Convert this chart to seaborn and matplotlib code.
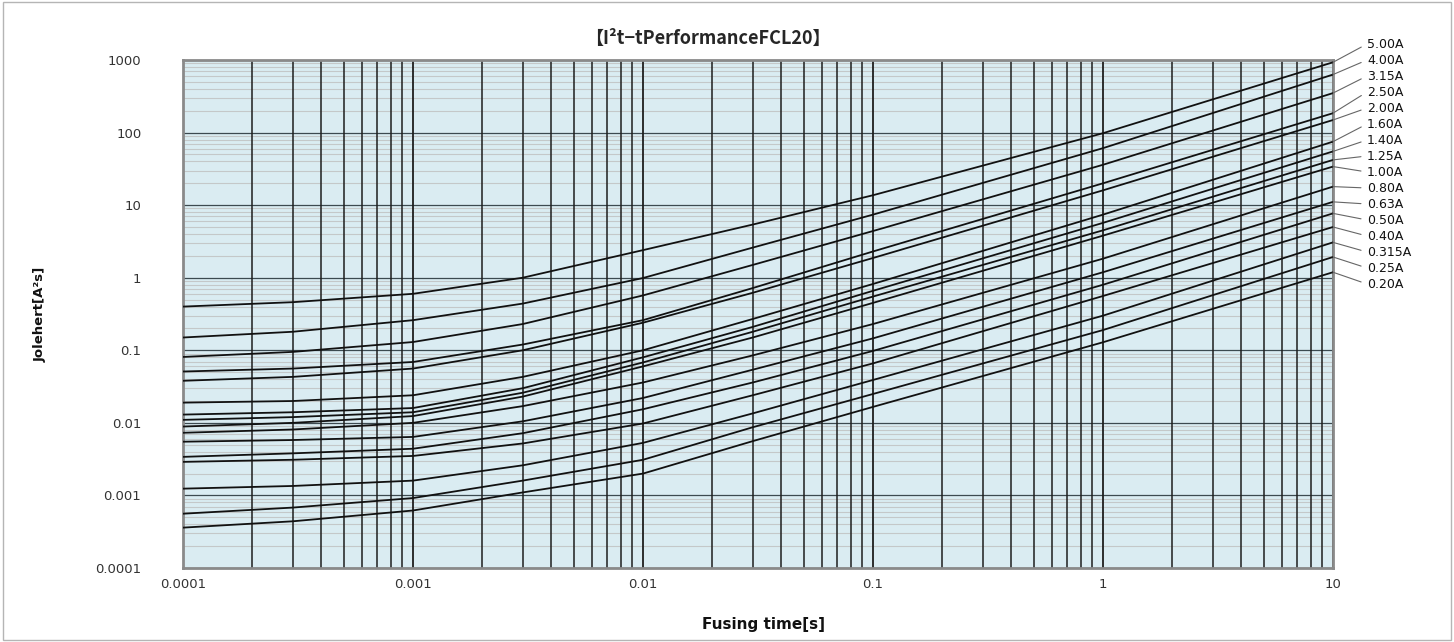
import numpy as np
import pandas as pd
import matplotlib
matplotlib.use("Agg")
import matplotlib.pyplot as plt
from matplotlib.patches import Rectangle
from matplotlib.ticker import LogLocator, FuncFormatter, NullFormatter
import seaborn as sns

# Fusing time [s]
times = [0.0001, 0.0003, 0.001, 0.003, 0.01, 0.03, 0.1, 1, 10]

# Rated current of each curve (top to bottom)
ratings = ["5.00A", "4.00A", "3.15A", "2.50A", "2.00A", "1.60A", "1.40A", "1.25A",
           "1.00A", "0.80A", "0.63A", "0.50A", "0.40A", "0.315A", "0.25A", "0.20A"]

# I2t values [A2s] read at each time above
i2t_500 = [0.40, 0.46, 0.60, 1.0, 2.4, 5.4, 13.7, 98, 930]
i2t_400 = [0.15, 0.18, 0.26, 0.44, 0.99, 2.6, 7.4, 61, 630]
i2t_315 = [0.081, 0.095, 0.13, 0.23, 0.57, 1.5, 4.4, 36, 350]
i2t_250 = [0.051, 0.056, 0.069, 0.12, 0.26, 0.72, 2.3, 20, 185]
i2t_200 = [0.038, 0.043, 0.056, 0.10, 0.24, 0.62, 1.87, 16, 149]
i2t_160 = [0.019, 0.020, 0.024, 0.043, 0.10, 0.27, 0.82, 7.4, 75]
i2t_140 = [0.013, 0.014, 0.016, 0.030, 0.080, 0.21, 0.66, 5.7, 55]
i2t_125 = [0.011, 0.012, 0.014, 0.026, 0.068, 0.18, 0.55, 4.5, 42]
i2t_100 = [0.0089, 0.010, 0.0124, 0.023, 0.060, 0.15, 0.45, 3.8, 34]
i2t_080 = [0.0073, 0.0081, 0.010, 0.017, 0.036, 0.085, 0.23, 1.83, 18]
i2t_063 = [0.0055, 0.0058, 0.0064, 0.0105, 0.022, 0.054, 0.146, 1.19, 11.1]
i2t_050 = [0.0034, 0.0038, 0.0044, 0.0072, 0.0154, 0.036, 0.098, 0.80, 7.7]
i2t_040 = [0.0029, 0.0031, 0.0035, 0.0052, 0.0098, 0.024, 0.066, 0.56, 5.0]
i2t_0315 = [0.00124, 0.00135, 0.0016, 0.0026, 0.0053, 0.0135, 0.039, 0.30, 3.07]
i2t_025 = [0.00056, 0.00068, 0.00092, 0.0016, 0.0031, 0.0087, 0.025, 0.19, 1.93]
i2t_020 = [0.00036, 0.00044, 0.00062, 0.0011, 0.0020, 0.0056, 0.0166, 0.129, 1.19]

curves = [i2t_500, i2t_400, i2t_315, i2t_250, i2t_200, i2t_160, i2t_140, i2t_125,
          i2t_100, i2t_080, i2t_063, i2t_050, i2t_040, i2t_0315, i2t_025, i2t_020]

rows = []
for name, vals in zip(ratings, curves):
    for t, v in zip(times, vals):
        rows.append({"t": t, "i2t": v, "rating": name})
df = pd.DataFrame(rows)

sns.set_style("white")
plt.rcParams["font.family"] = ["DejaVu Sans", "Noto Sans CJK JP"]

fig = plt.figure(figsize=(14.54, 6.42), dpi=100)
ax = fig.add_axes([183 / 1454, 1 - 568 / 642, 1150 / 1454, 508 / 642])
ax.set_facecolor("#daecf2")

sns.lineplot(data=df, x="t", y="i2t", hue="rating", hue_order=ratings,
             palette=["#111111"] * len(ratings), linewidth=1.3, legend=False,
             sort=True, ax=ax, zorder=3)

ax.set_xscale("log")
ax.set_yscale("log")
ax.set_xlim(0.0001, 10)
ax.set_ylim(0.0001, 1000)

ax.xaxis.set_major_locator(LogLocator(base=10, numticks=20))
ax.xaxis.set_minor_locator(LogLocator(base=10, subs=np.arange(2, 10), numticks=20))
ax.yaxis.set_major_locator(LogLocator(base=10, numticks=20))
ax.yaxis.set_minor_locator(LogLocator(base=10, subs=np.arange(2, 10), numticks=20))
fmt = FuncFormatter(lambda v, p: np.format_float_positional(v, trim="-"))
ax.xaxis.set_major_formatter(fmt)
ax.yaxis.set_major_formatter(fmt)
ax.xaxis.set_minor_formatter(NullFormatter())
ax.yaxis.set_minor_formatter(NullFormatter())

ax.grid(which="minor", axis="y", color="#c4c8c9", lw=0.8)
ax.grid(which="major", axis="y", color="#3c4a50", lw=0.9)
ax.grid(which="minor", axis="x", color="#1e1e1e", lw=1.1)
ax.grid(which="major", axis="x", color="#1e1e1e", lw=1.3)
ax.set_axisbelow(True)
# vertical lines over the horizontal ones
ax.yaxis.set_zorder(0.4)
ax.xaxis.set_zorder(0.6)

ax.tick_params(which="both", length=0)
ax.tick_params(axis="y", pad=30, labelsize=9.5, labelcolor="#333333")
ax.tick_params(axis="x", pad=7, labelsize=9.5, labelcolor="#333333")
for s in ax.spines.values():
    s.set_color("#8a8a8a")
    s.set_linewidth(2)

ax.set_xlabel("")
ax.set_ylabel("")

# curve labels with leader lines on the right
for i, (name, vals) in enumerate(zip(ratings, curves)):
    ypix = 642 - (44 + i * 16)
    ax.annotate(name, xy=(times[-1], vals[-1]), xycoords="data",
                xytext=(1367, ypix), textcoords="figure pixels",
                ha="left", va="center", fontsize=9, color="#111111",
                annotation_clip=False,
                arrowprops=dict(arrowstyle="-", color="#666666", lw=0.8,
                                shrinkA=2, shrinkB=0, relpos=(0, 0.5)))

fig.text(708 / 1454, 1 - 38 / 642, "【I²t−tPerformanceFCL20】",
         ha="center", va="center", fontsize=13, fontweight="bold",
         family=["Noto Sans CJK JP", "DejaVu Sans"])
fig.text(40 / 1454, 1 - 314 / 642, "Jolehert[A²s]", rotation=90,
         ha="center", va="center", fontsize=9.5, fontweight="bold", color="#111111")
fig.text(763 / 1454, 1 - 625 / 642, "Fusing time[s]",
         ha="center", va="center", fontsize=11, fontweight="bold", color="#111111")

fig.patches.append(Rectangle((0.002, 0.003), 0.996, 0.994, transform=fig.transFigure,
                             fill=False, edgecolor="#b5b5b5", lw=1))

fig.savefig("out.png", dpi=100)
